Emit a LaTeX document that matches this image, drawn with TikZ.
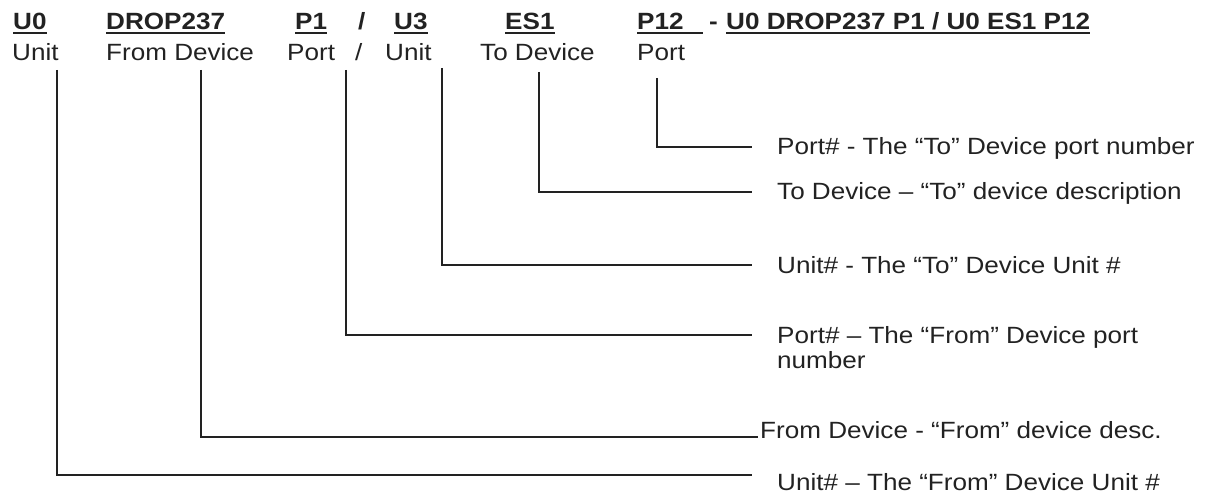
\documentclass[tikz,border=0pt]{standalone}
\usepackage{fontspec}
\setmainfont{Liberation Sans}[FakeStretch=1.11]
\usetikzlibrary{positioning}
\definecolor{ink}{HTML}{222222}
\newcommand\hdfont{\fontsize{23.5pt}{25pt}\selectfont}
\newcommand\hdul[2][0pt]{\setbox0\hbox{#2\hspace{#1}}\rlap{\rule[-3.6pt]{\wd0}{1.8pt}}\box0}

\begin{document}
\begin{tikzpicture}[x=1pt,y=-1pt,color=ink,
    hd/.style={anchor=base west,inner sep=0pt,font=\hdfont\bfseries},
    sub/.style={anchor=base west,inner sep=0pt,font=\hdfont},
    lab/.style={anchor=west,inner sep=0pt,font=\hdfont,text height=16pt,text depth=0pt},
    wire/.style={line width=1.3pt}]
    \useasboundingbox (0,0) rectangle (1210,497);
    \node[hd] (hU0) at (13,30) {\hdul{U0}};
    \node[hd] (hDrop) at (106,30) {\hdul{DROP237}};
    \node[hd] (hP1) at (295,30) {\hdul{P1}};
    \node[hd] (hSl) at (358,30) {/};
    \node[hd] (hU3) at (394,30) {\hdul{U3}};
    \node[hd] (hES1) at (505,30) {\hdul{ES1}};
    \node[hd] (hP12) at (637,30) {\hdul[19pt]{P12}};
    \node[hd] (hDash) at (709,30) {-};
    \node[hd] (hAll) at (726,30) {\hdul{U0 DROP237 P1 / U0 ES1 P12}};
    \node[sub] (sU0) at (12,61) {Unit};
    \node[sub] (sDrop) at (106,61) {From Device};
    \node[sub] (sP1) at (287,61) {Port};
    \node[sub] (sSl) at (355,61) {/};
    \node[sub] (sU3) at (385,61) {Unit};
    \node[sub] (sES1) at (480,61) {To Device};
    \node[sub] (sP12) at (637,61) {Port};
    \coordinate (tU0) at (57,70);
    \coordinate (tDrop) at (201,70);
    \coordinate (tP1) at (346,70);
    \coordinate (tU3) at (442,68);
    \coordinate (tES1) at (539,72);
    \coordinate (tP12) at (657,78);
    \coordinate (eU0) at (752,475);
    \coordinate (eDrop) at (758,437);
    \coordinate (eP1) at (752,335);
    \coordinate (eU3) at (752,265);
    \coordinate (eES1) at (752,192);
    \coordinate (eP12) at (752,147);
    \node[lab,right=25pt of eP12] (lP12) {Port\# - The “To” Device port number};
    \node[lab,right=25pt of eES1] (lES1) {To Device – “To” device description};
    \node[lab,right=25pt of eU3] (lU3) {Unit\# - The “To” Device Unit \#};
    \node[right=25pt of eP1,anchor=north west,yshift=9pt,inner sep=0pt,align=left,font=\hdfont] (lP1) {Port\# – The “From” Device port\\number};
    \node[lab,right=2pt of eDrop,yshift=7pt] (lDrop) {From Device - “From” device desc.};
    \node[lab,right=25pt of eU0,yshift=-7pt] (lU0) {Unit\# – The “From” Device Unit \#};
    \draw[wire] (tP12) |- (eP12);
    \draw[wire] (tES1) |- (eES1);
    \draw[wire] (tU3) |- (eU3);
    \draw[wire] (tP1) |- (eP1);
    \draw[wire] (tDrop) |- (eDrop);
    \draw[wire] (tU0) |- (eU0);
\end{tikzpicture}
\end{document}
